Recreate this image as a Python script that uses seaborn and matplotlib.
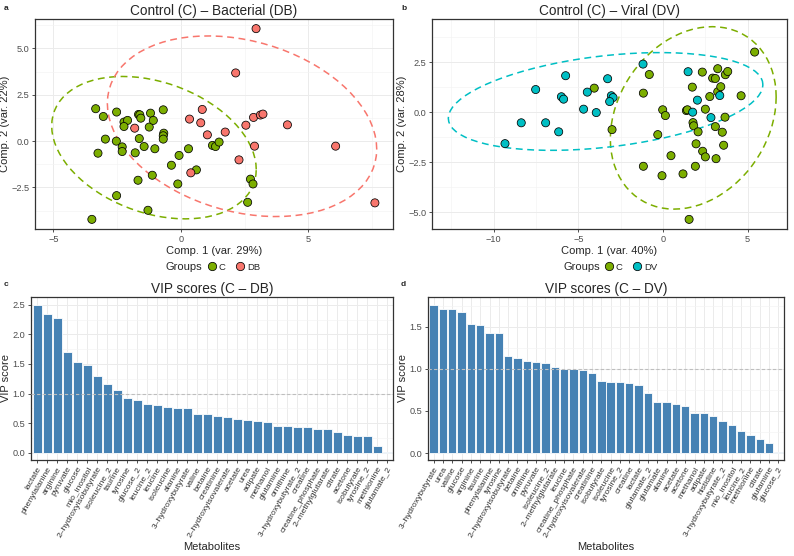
import numpy as np
import pandas as pd
import matplotlib
matplotlib.use("Agg")
import matplotlib.pyplot as plt
from matplotlib.lines import Line2D
import seaborn as sns

# ---------------- data ----------------
# Panel a: Control (C) vs Bacterial (DB)
a_c_x = [-3.34, -3.04, -2.52, -2.96, -3.25, -2.53, -2.30, -2.30, -2.23, -2.09, -2.23, -1.66, -1.61, -1.57,
         -1.63, -1.79, -1.68, -1.44, -1.19, -1.24, -1.08, -1.02, -1.12, -0.69, -0.67, -0.69, -0.69, -0.37,
         -0.07, -0.12, 0.30, 0.61, 1.24, 1.36, 1.50, 2.73, 2.83, 2.62, -2.52, -1.29, -3.49]
a_c_y = [1.75, 1.33, 1.57, 0.11, -0.65, 0.00, -0.31, -0.56, 1.03, 1.12, 0.79, 1.44, 1.42, 1.24,
         0.14, -0.63, -2.11, -0.29, 1.51, 0.76, 1.12, -0.41, -1.84, 1.69, 0.43, 0.29, 0.11, -1.30,
         -0.77, -2.31, -0.41, -1.55, -0.23, -0.29, -0.05, -2.05, -2.31, -3.30, -2.94, -3.73, -4.22]
a_db_x = [2.95, 2.15, 0.84, 0.34, 0.78, -1.81, 1.04, 1.74, 2.55, 2.85, 3.12, 3.22, 4.18, 2.89, 6.07, 2.28, 0.39, 7.61]
a_db_y = [6.07, 3.68, 1.71, 1.19, 0.99, 0.70, 0.34, 0.49, 0.86, 1.28, 1.41, 1.46, 0.88, -0.27, -0.27, -1.01, -1.71, -3.33]

# Panel b: Control (C) vs Viral (DV)
b_c_x = [-4.06, -0.81, -1.16, -3.01, -1.16, -0.31, -0.02, 0.14, -0.06, 0.47, 1.18, 1.38, 1.44, 1.54, 1.73,
         1.77, 1.81, 2.07, 1.95, 1.91, 2.32, 2.34, 2.50, 2.50, 2.76, 2.93, 3.09, 3.23, 3.23, 3.41, 3.09,
         3.13, 3.50, 3.58, 3.66, 3.68, 3.82, 4.61, 5.41]
b_c_y = [1.20, 1.88, 0.95, -0.87, -2.70, -1.12, 0.12, -0.17, -3.17, -2.17, -3.08, 0.08, 0.12, -5.35, 1.25,
         -0.52, -0.68, -0.98, -1.58, -2.70, 2.00, -1.95, 0.15, -2.23, 0.78, 1.70, 1.68, 2.17, 1.02, 1.27, -0.72,
         -2.32, -1.00, -1.65, -0.25, 1.87, 2.03, 0.82, 3.00]
b_dv_x = [-9.33, -8.37, -7.52, -6.93, -6.16, -6.00, -5.87, -5.75, -4.69, -4.47, -3.94, -3.27, -3.05, -2.95,
          -3.15, -1.18, 1.48, 1.75, 2.03, 2.83, 3.35]
b_dv_y = [-1.57, -0.53, 1.13, -0.53, -0.98, 0.77, 0.65, 1.82, 0.15, 1.00, -0.02, 1.67, 0.82, 0.73,
          0.53, 2.40, 2.02, 0.00, 0.60, -0.27, 0.83]

# Panel c: VIP scores (C - DB)
vip_db_names = ["lactate", "phenylalanine", "arginine", "pyruvate", "glucose", "mio_inositol",
                "2\u2013hydroxyisobutyrate", "isoleucine_2", "taurine", "tyrosine", "glucose_2", "leucine_2",
                "leucine", "isoleucine", "alanine", "3\u2013hydroxybutyrate", "valine", "betaine", "creatinine",
                "2\u2013hydroxyisovalerate", "acetate", "urea", "adipate", "methanol", "glutamine", "ornithine",
                "3\u2013hydroxybutyrate_2", "creatine", "creatine_phosphate", "2\u2013methylglutarate", "citrate",
                "acetone", "isobutyrate", "tyrosine_2", "methionine", "glutamate_2"]
vip_db_vals = [2.50, 2.35, 2.28, 1.71, 1.53, 1.48, 1.29, 1.16, 1.06, 0.92, 0.90, 0.82, 0.81, 0.77, 0.76,
               0.75, 0.66, 0.66, 0.62, 0.60, 0.58, 0.55, 0.53, 0.52, 0.46, 0.46, 0.44, 0.43, 0.40, 0.40,
               0.36, 0.30, 0.29, 0.29, 0.11, 0.01]

# Panel d: VIP scores (C - DV)
vip_dv_names = ["3\u2013hydroxybutyrate", "urea", "valine", "glucose", "arginine", "taurine", "phenylalanine",
                "tyrosine", "2\u2013hydroxyisobutyrate", "betaine", "ornithine", "pyruvate", "isoleucine_2",
                "2\u2013methylglutarate", "leucine", "creatine_phosphate", "2\u2013hydroxyisovalerate", "creatinine",
                "isobutyrate", "isoleucine", "tyrosine_2", "creatine", "lactate", "glutamate_2", "glutamate",
                "alanine", "acetate", "acetone", "methanol", "adipate", "histidine", "3\u2013hydroxybutyrate_2",
                "mio_inositol", "leucine_2", "methionine", "citrate", "glutamine", "glucose_2"]
vip_dv_vals = [1.76, 1.71, 1.71, 1.68, 1.53, 1.52, 1.42, 1.42, 1.15, 1.13, 1.09, 1.08, 1.07, 1.02, 1.00,
               1.00, 0.99, 0.95, 0.85, 0.84, 0.84, 0.83, 0.81, 0.71, 0.60, 0.60, 0.58, 0.56, 0.48, 0.47,
               0.44, 0.38, 0.33, 0.26, 0.21, 0.17, 0.12, 0.01]

COL_C = "#7CAE00"
COL_DB = "#F8766D"
COL_DV = "#00BFC4"
BAR_COL = "#4682B4"

# ---------------- style ----------------
sns.set_theme(style="white")
plt.rcParams["font.family"] = ["Liberation Sans", "DejaVu Sans"]

W, H = 794, 556
fig = plt.figure(figsize=(W / 100, H / 100), dpi=100)

TITLE_FS = 9.8
LABEL_FS = 8.0
TICK_FS = 6.6
XLAB_FS = 6.1


def px_axes(l, t, r, b):
    return fig.add_axes([l / W, 1 - b / H, (r - l) / W, (b - t) / H])


def style_axes(ax, minor_x=None, minor_y=None):
    for s in ax.spines.values():
        s.set_color("#333333")
        s.set_linewidth(0.9)
    ax.tick_params(axis="both", length=2.5, width=0.6, color="#333333", labelsize=TICK_FS,
                   labelcolor="#4D4D4D", pad=1.5, direction="out", bottom=True, left=True)
    ax.grid(True, which="major", color="#EBEBEB", linewidth=0.7)
    if minor_x is not None:
        ax.set_xticks(minor_x, minor=True)
    if minor_y is not None:
        ax.set_yticks(minor_y, minor=True)
    ax.tick_params(which="minor", length=0)
    ax.grid(True, which="minor", color="#F3F3F3", linewidth=0.45)
    ax.set_axisbelow(True)


def ellipse_pts(xs, ys, level=0.95, segments=80):
    # confidence ellipse from the group's mean and covariance (chi-square, 2 df)
    data = np.column_stack([xs, ys])
    center = data.mean(axis=0)
    shape = np.cov(data.T)
    radius = np.sqrt(-2.0 * np.log(1 - level))
    ang = np.linspace(0, 2 * np.pi, segments + 1)
    circ = np.column_stack([np.cos(ang), np.sin(ang)])
    chol = np.linalg.cholesky(shape).T
    pts = center + radius * circ @ chol
    return pts[:, 0], pts[:, 1]


def scatter_panel(ax, gx1, gy1, gx2, gy2, lab2, col2):
    df = pd.DataFrame({
        "x": list(gx1) + list(gx2),
        "y": list(gy1) + list(gy2),
        "Groups": ["C"] * len(gx1) + [lab2] * len(gx2),
    })
    for g, col in (("C", COL_C), (lab2, col2)):
        sub = df[df.Groups == g]
        ex, ey = ellipse_pts(sub.x.values, sub.y.values)
        ax.plot(ex, ey, linestyle=(0, (4.5, 3)), color=col, linewidth=1.1, zorder=2)
    sns.scatterplot(data=df, x="x", y="y", hue="Groups", palette={"C": COL_C, lab2: col2},
                    s=34, edgecolor="black", linewidth=0.55, legend=False, ax=ax, zorder=3)


def scatter_legend(lab2, col2, cx):
    handles = [Line2D([], [], marker="o", linestyle="", markerfacecolor=COL_C, markeredgecolor="black",
                      markeredgewidth=0.55, markersize=6),
               Line2D([], [], marker="o", linestyle="", markerfacecolor=col2, markeredgecolor="black",
                      markeredgewidth=0.55, markersize=6)]
    fig.legend(handles, ["C", lab2], ncol=2, loc="center left",
               bbox_to_anchor=(cx / W, 1 - 267 / H), frameon=False, fontsize=6.8,
               handletextpad=0.05, columnspacing=0.9, handlelength=1.3, borderaxespad=0,
               borderpad=0)


# ---------------- panel a ----------------
axa = px_axes(35, 19, 393, 229)
scatter_panel(axa, a_c_x, a_c_y, a_db_x, a_db_y, "DB", COL_DB)
axa.set_xlim(-5.72, 8.32)
axa.set_ylim(-4.74, 6.59)
axa.set_xticks([-5, 0, 5])
axa.set_yticks([-2.5, 0, 2.5, 5.0])
axa.set_yticklabels(["\u22122.5", "0.0", "2.5", "5.0"])
axa.set_xticklabels(["\u22125", "0", "5"])
style_axes(axa, minor_x=[-2.5, 2.5, 7.5], minor_y=[-3.75, -1.25, 1.25, 3.75, 6.25])
axa.set_xlabel("Comp. 1 (var. 29%)", fontsize=LABEL_FS, labelpad=1.5)
axa.set_ylabel("Comp. 2 (var. 22%)", fontsize=LABEL_FS, labelpad=1)
axa.set_title("Control (C) \u2013 Bacterial (DB)", fontsize=TITLE_FS, pad=3)
fig.text(166 / W, 1 - 267 / H, "Groups", fontsize=LABEL_FS, va="center", ha="left")
scatter_legend("DB", COL_DB, 206)

# ---------------- panel b ----------------
axb = px_axes(432, 19, 787, 229)
scatter_panel(axb, b_c_x, b_c_y, b_dv_x, b_dv_y, "DV", COL_DV)
axb.set_xlim(-13.64, 7.32)
axb.set_ylim(-5.83, 4.65)
axb.set_xticks([-10, -5, 0, 5])
axb.set_xticklabels(["\u221210", "\u22125", "0", "5"])
axb.set_yticks([-5.0, -2.5, 0, 2.5])
axb.set_yticklabels(["\u22125.0", "\u22122.5", "0.0", "2.5"])
style_axes(axb, minor_x=[-12.5, -7.5, -2.5, 2.5], minor_y=[-3.75, -1.25, 1.25, 3.75])
axb.set_xlabel("Comp. 1 (var. 40%)", fontsize=LABEL_FS, labelpad=1.5)
axb.set_ylabel("Comp. 2 (var. 28%)", fontsize=LABEL_FS, labelpad=1)
axb.set_title("Control (C) \u2013 Viral (DV)", fontsize=TITLE_FS, pad=3)
fig.text((397 + 166) / W, 1 - 267 / H, "Groups", fontsize=LABEL_FS, va="center", ha="left")
scatter_legend("DV", COL_DV, 397 + 206)


# ---------------- bar panels ----------------
def bar_panel(ax, names, vals, title):
    df = pd.DataFrame({"Metabolites": names, "VIP": vals})
    sns.barplot(data=df, x="Metabolites", y="VIP", color=BAR_COL, saturation=1, width=0.9,
                edgecolor="white", linewidth=0.6, ax=ax, zorder=2)
    ax.axhline(1.0, color="#BEBEBE", linestyle=(0, (3, 2)), linewidth=0.8, zorder=3)
    n = len(names)
    ax.set_xlim(-0.6, n - 1 + 0.6)
    ax.set_xticks(range(n))
    ax.set_xticklabels(names, rotation=60, ha="right", rotation_mode="anchor", fontsize=XLAB_FS)
    ax.set_xlabel("Metabolites", fontsize=LABEL_FS)
    ax.xaxis.set_label_coords(0.5, -0.50)
    ax.set_ylabel("VIP score", fontsize=LABEL_FS, labelpad=1)
    ax.set_title(title, fontsize=TITLE_FS, pad=3)


axc = px_axes(31, 297, 393, 460)
bar_panel(axc, vip_db_names, vip_db_vals, "VIP scores (C \u2013 DB)")
axc.set_ylim(-0.12, 2.63)
axc.set_yticks([0.0, 0.5, 1.0, 1.5, 2.0, 2.5])
axc.set_yticklabels(["0.0", "0.5", "1.0", "1.5", "2.0", "2.5"])
style_axes(axc, minor_y=[0.25, 0.75, 1.25, 1.75, 2.25])
axc.tick_params(axis="x", labelsize=XLAB_FS, labelcolor="#333333")

axd = px_axes(428, 297, 784, 460)
bar_panel(axd, vip_dv_names, vip_dv_vals, "VIP scores (C \u2013 DV)")
axd.set_ylim(-0.083, 1.853)
axd.set_yticks([0.0, 0.5, 1.0, 1.5])
axd.set_yticklabels(["0.0", "0.5", "1.0", "1.5"])
style_axes(axd, minor_y=[0.25, 0.75, 1.25, 1.75])
axd.tick_params(axis="x", labelsize=XLAB_FS, labelcolor="#333333")

# panel letters
for lx, ly, letter in ((4, 8, "a"), (401, 8, "b"), (4, 285, "c"), (401, 285, "d")):
    fig.text(lx / W, 1 - ly / H, letter, fontsize=6, fontweight="bold", va="center", ha="left")

fig.savefig("out.png", dpi=100)
